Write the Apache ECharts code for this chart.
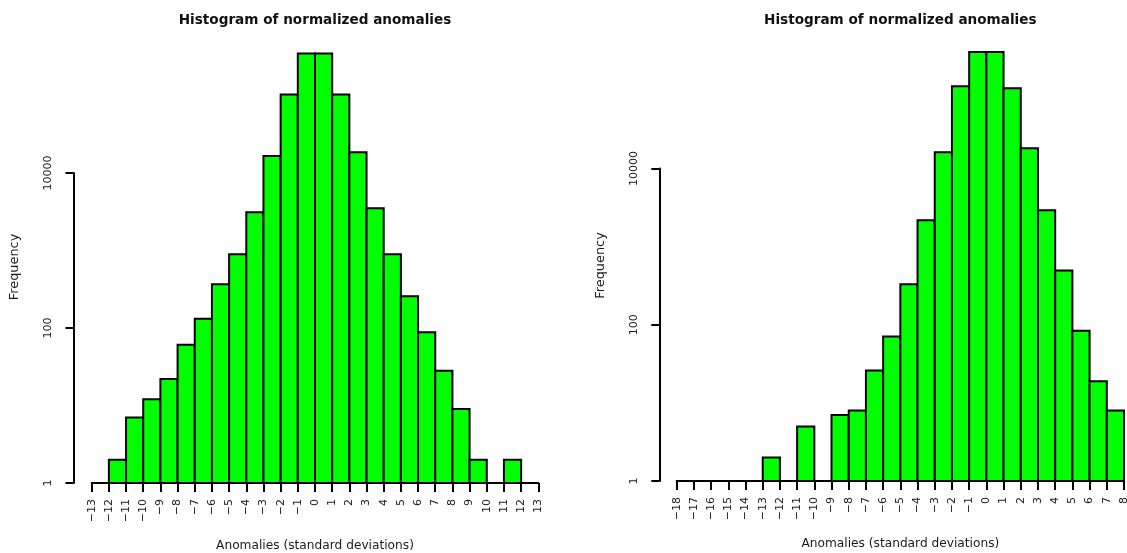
<!DOCTYPE html>
<html><head><meta charset="utf-8">
<script src="https://cdn.jsdelivr.net/npm/echarts@6/dist/echarts.min.js"></script>
<style>html,body{margin:0;padding:0;background:#fff}#c{width:1127px;height:553px}</style>
</head><body><div id="c"></div>
<script>
// ---- data ----
const titleText = 'Histogram of normalized anomalies';
const xName = 'Anomalies (standard deviations)';
const yName = 'Frequency';
const binWidth = 1;

// left histogram: bins [start, start+1)
const leftBinStarts = [-13,-12,-11,-10,-9,-8,-7,-6,-5,-4,-3,-2,-1,0,1,2,3,4,5,6,7,8,9,10,11,12];
const leftCounts    = [1,2,7,12,22,61,132,366,893,3110,16560,102800,347400,347400,102800,18500,3505,893,257,88,28,9,2,1,2,1];

// right histogram: bins [start, start+1); 0 = empty bin (not drawn)
const rightBinStarts = [-18,-17,-16,-15,-14,-13,-12,-11,-10,-9,-8,-7,-6,-5,-4,-3,-2,-1,0,1,2,3,4,5,6,7];
const rightCounts    = [1,0,0,0,0,2,1,5,1,7,8,26,71,330,2180,16200,113000,311000,311000,106700,18200,2930,494,84,19,8];

// ---- layout (pixels) ----
const panels = [
  {starts: leftBinStarts, counts: leftCounts, axisX: 73.5, x0: 91.7, x1: 538.3, base: 483, decade: 77.5, top: 51, cx: 315},
  {starts: rightBinStarts, counts: rightCounts, axisX: 659.3, x0: 676.7, x1: 1124, base: 481, decade: 78.1, top: 50, cx: 900.3}
];

const font = 'DejaVu Sans';
const txt = '#1a1a1a';
const grids = [], xAxes = [], yAxes = [], series = [], titles = [];

panels.forEach((p, k) => {
  const gMain = grids.length;
  grids.push({left: p.x0, width: p.x1 - p.x0, top: p.top, height: p.base - p.top,
    containLabel: false, outerBoundsMode: 'none'});
  const gAxis = grids.length;
  grids.push({left: p.axisX, width: 1, top: p.base - 4 * p.decade, height: 4 * p.decade,
    containLabel: false, outerBoundsMode: 'none'});

  const xmin = p.starts[0], xmax = p.starts[p.starts.length - 1] + binWidth;
  xAxes.push({
    gridIndex: gMain, type: 'value', min: xmin, max: xmax, interval: 1,
    axisLine: {show: true, onZero: false, lineStyle: {color: '#000', width: 2}},
    axisTick: {show: true, length: 9, lineStyle: {color: '#000', width: 2}},
    axisLabel: {rotate: 90, margin: 16, fontSize: 11, fontFamily: font, color: txt,
      formatter: v => String(v).replace('-', '\u2212')},
    splitLine: {show: false},
    name: xName, nameLocation: 'middle', nameGap: 57,
    nameTextStyle: {fontSize: 12.2, fontFamily: font, color: txt}
  });
  xAxes.push({gridIndex: gAxis, type: 'value', show: false, min: 0, max: 1});

  yAxes.push({
    gridIndex: gMain, type: 'log', min: 1,
    max: Math.pow(10, (p.base - p.top) / p.decade),
    axisLine: {show: false}, axisTick: {show: false}, axisLabel: {show: false},
    splitLine: {show: false},
    name: yName, nameLocation: 'middle', nameRotate: 90, nameGap: p.x0 - p.axisX + 52,
    nameTextStyle: {fontSize: 12.9, fontFamily: font, color: txt}
  });
  yAxes.push({
    gridIndex: gAxis, type: 'log', logBase: 100, min: 1, max: 10000,
    axisLine: {show: true, lineStyle: {color: '#000', width: 2}},
    axisTick: {show: true, length: 8, lineStyle: {color: '#000', width: 2}},
    axisLabel: {rotate: 90, margin: 20, fontSize: 11, fontFamily: font, color: txt,
      formatter: v => String(Math.round(v))},
    splitLine: {show: false}
  });

  const data = p.starts.map((s, i) => [s, s + binWidth, p.counts[i]]).filter(d => d[2] > 0);
  series.push({
    type: 'custom', xAxisIndex: 2 * k, yAxisIndex: 2 * k,
    encode: {x: [0, 1], y: 2},
    data: data,
    clip: false,
    renderItem: (params, api) => {
      const a = api.coord([api.value(0), api.value(2)]);
      const b = api.coord([api.value(1), 1]);
      return {type: 'rect',
        shape: {x: a[0], y: a[1], width: b[0] - a[0], height: b[1] - a[1]},
        style: {fill: '#00ff00', stroke: '#000', lineWidth: 2}};
    }
  });

  titles.push({text: titleText, left: p.cx - 5, textAlign: 'center', top: 8,
    textStyle: {fontSize: 13.6, fontWeight: 'bold', fontFamily: font, color: '#111'}});
});

const chart = echarts.init(document.getElementById('c'), null, {renderer: 'canvas'});
chart.setOption({
  animation: false,
  backgroundColor: '#fff',
  title: titles,
  grid: grids,
  xAxis: xAxes,
  yAxis: yAxes,
  series: series
});
</script>
</body></html>
